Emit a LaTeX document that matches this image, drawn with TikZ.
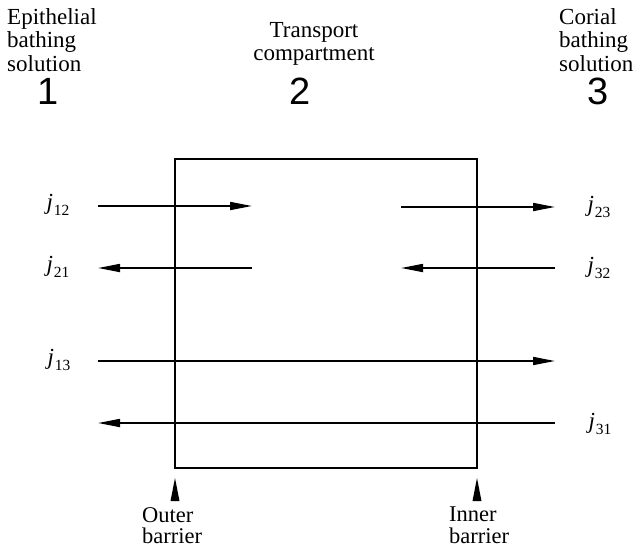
\documentclass[tikz,border=0pt]{standalone}
\usepackage{fontspec}
\setmainfont{Liberation Serif}
\newfontfamily\numfont{Liberation Sans}
\usetikzlibrary{arrows.meta}
\newcommand{\jflux}[1]{{\fontsize{23}{23}\selectfont\itshape j}\kern0.8pt\raisebox{-5.5pt}{\fontsize{15.5}{16}\selectfont #1}}
\begin{document}
\begin{tikzpicture}[x=1pt,y=-1pt,
  flux/.style={line width=1.7pt,-{Triangle[length=22pt,width=8pt]}},
  jlab/.style={inner sep=0pt},
  head/.style={font=\fontsize{23}{23.5}\selectfont,align=left,inner sep=0pt},
  num/.style={font=\numfont\fontsize{38}{40}\selectfont,inner sep=0pt},
  barlab/.style={font=\fontsize{22.5}{21.5}\selectfont,align=left,inner sep=0pt},
  pointer/.style={fill=black}]
\useasboundingbox (0,0) rectangle (641,550);
\node[draw,line width=1.7pt,minimum width=302pt,minimum height=309pt,inner sep=0pt] (box) at (326,313.5) {};
% headings
\node[head,anchor=north west] (h1) at (7,8) {Epithelial\\bathing\\solution};
\node[head,anchor=north,align=center] (h2) at (314,22) {Transport\\compartment};
\node[head,anchor=north west] (h3) at (559,8) {Corial\\bathing\\solution};
\node[num] (n1) at (48,91) {1};
\node[num] (n2) at (300,91) {2};
\node[num] (n3) at (598,91) {3};
% flux coordinates
\coordinate (a1) at (98,206); \coordinate (a2) at (252,206);
\coordinate (b1) at (252,268); \coordinate (b2) at (98,268);
\coordinate (c1) at (401,207); \coordinate (c2) at (555,207);
\coordinate (d1) at (555,268); \coordinate (d2) at (401,268);
\coordinate (e1) at (98,361); \coordinate (e2) at (555,361);
\coordinate (f1) at (555,423); \coordinate (f2) at (98,423);
\draw[flux] (a1) -- (a2);
\draw[flux] (b1) -- (b2);
\draw[flux] (c1) -- (c2);
\draw[flux] (d1) -- (d2);
\draw[flux] (e1) -- (e2);
\draw[flux] (f1) -- (f2);
% labels
\node[jlab] (j12) at (58,205) {\jflux{12}};
\node[jlab] (j21) at (58,267) {\jflux{21}};
\node[jlab] (j13) at (59,360) {\jflux{13}};
\node[jlab] (j23) at (599,207) {\jflux{23}};
\node[jlab] (j32) at (599,268) {\jflux{32}};
\node[jlab] (j31) at (600,424) {\jflux{31}};
% barriers
\coordinate (p1) at (175,478); \coordinate (q1) at (477,478);
\fill[pointer] (p1) -- ++(4.5,23) -- ++(-9,0) -- cycle;
\fill[pointer] (q1) -- ++(4.5,23) -- ++(-9,0) -- cycle;
\node[barlab,anchor=north west] (ob) at (142,507) {Outer\\barrier};
\node[barlab,anchor=north west] (ib) at (449,507) {Inner\\barrier};
\end{tikzpicture}
\end{document}
